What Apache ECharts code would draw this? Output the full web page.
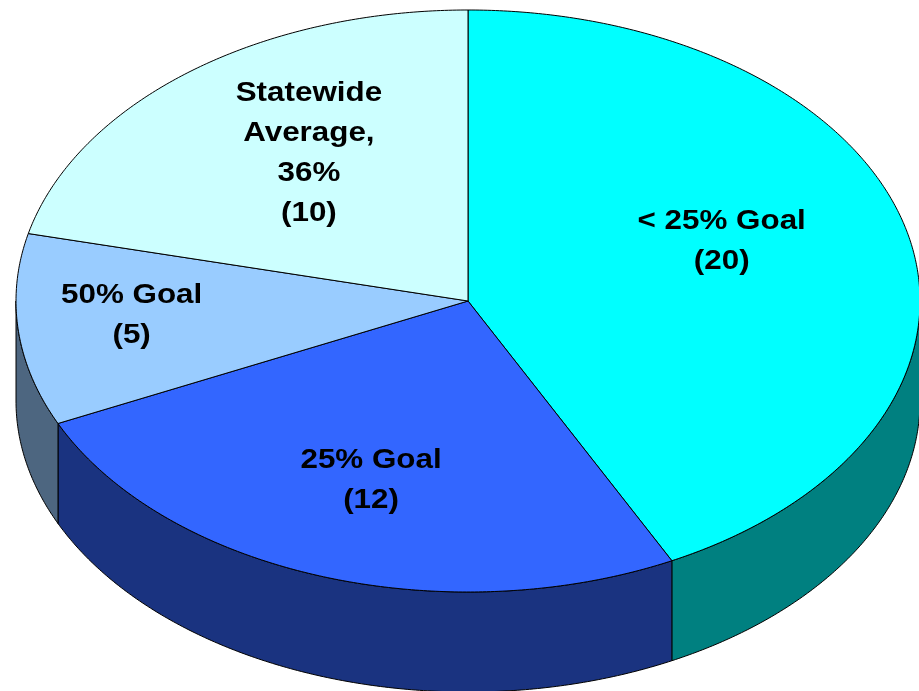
<!DOCTYPE html>
<html>
<head>
<meta charset="utf-8">
<script src="https://cdn.jsdelivr.net/npm/echarts@6/dist/echarts.min.js"></script>
<style>
  html, body { margin: 0; padding: 0; background: #ffffff; }
  #chart { width: 919px; height: 691px; }
</style>
</head>
<body>
<div id="chart"></div>
<script>
// Slice data, clockwise from 12 o'clock
const categories = ['< 25% Goal', '25% Goal', '50% Goal', 'Statewide Average, 36%'];
const counts = [20, 12, 5, 10];
const labelLines = [['< 25% Goal'], ['25% Goal'], ['50% Goal'], ['Statewide', 'Average,', '36%']];

// Face colours (top) and shaded colours for the rim
const topColors = ['#00FFFF', '#3366FF', '#99CCFF', '#CCFFFF'];
const sideColors = ['#008080', '#1A3380', '#4D6680', '#668080'];

// Tilted-disc geometry
const PIE = { cx: 468, cy: 301, rx: 452, ry: 291, depth: 100 };
// Label anchor as fraction of the radii along each slice's mid angle
const LABEL_K = [[0.577, 0.882], [0.654, 0.653], [0.748, 0.50], [0.568, 0.648]];
const FONT = 'bold 28px "Liberation Sans", Arial, sans-serif';

function pt(t, dy) {
  const r = t * Math.PI / 180;
  return [PIE.cx + PIE.rx * Math.sin(r), PIE.cy - PIE.ry * Math.cos(r) + dy];
}

function arc(a0, a1, dy) {
  const pts = [];
  const n = Math.max(2, Math.ceil(Math.abs(a1 - a0) / 0.5));
  for (let k = 0; k <= n; k++) pts.push(pt(a0 + (a1 - a0) * k / n, dy));
  return pts;
}

function renderItem(params, api) {
  const i = params.dataIndex;
  const total = counts.reduce((a, b) => a + b, 0);
  let before = 0;
  for (let j = 0; j < i; j++) before += counts[j];
  const a0 = before / total * 360;
  const a1 = (before + api.value(0)) / total * 360;
  const children = [];

  // Visible rim: the front half of the disc (90°..270°)
  const s0 = Math.max(a0, 90), s1 = Math.min(a1, 270);
  if (s1 > s0) {
    children.push({
      type: 'polygon',
      z2: 1,
      shape: { points: arc(s0, s1, 0).concat(arc(s1, s0, PIE.depth)) },
      style: { fill: sideColors[i], stroke: '#000000', lineWidth: 1 }
    });
  }

  // Top face of the slice
  children.push({
    type: 'polygon',
    z2: 2,
    shape: { points: [[PIE.cx, PIE.cy]].concat(arc(a0, a1, 0)) },
    style: { fill: topColors[i], stroke: '#000000', lineWidth: 1, lineJoin: 'round' }
  });

  // Label
  const mid = (a0 + a1) / 2 * Math.PI / 180;
  const lx = PIE.cx + LABEL_K[i][0] * PIE.rx * Math.sin(mid);
  const ly = PIE.cy - LABEL_K[i][1] * PIE.ry * Math.cos(mid);
  const text = labelLines[i].concat('(' + api.value(0) + ')').join('\n');
  children.push({
    type: 'text',
    z2: 10,
    x: lx,
    y: ly,
    scaleX: 1.12,
    style: {
      text: text,
      font: FONT,
      fill: '#000000',
      align: 'center',
      verticalAlign: 'middle',
      textAlign: 'center',
      textVerticalAlign: 'middle',
      lineHeight: 40
    }
  });

  return { type: 'group', children: children };
}

const chart = echarts.init(document.getElementById('chart'), null, { renderer: 'canvas' });
chart.setOption({
  animation: false,
  backgroundColor: '#ffffff',
  series: [{
    type: 'custom',
    coordinateSystem: 'none',
    renderItem: renderItem,
    data: counts.map((v, k) => ({ name: categories[k], value: [v] }))
  }]
});
</script>
</body>
</html>
